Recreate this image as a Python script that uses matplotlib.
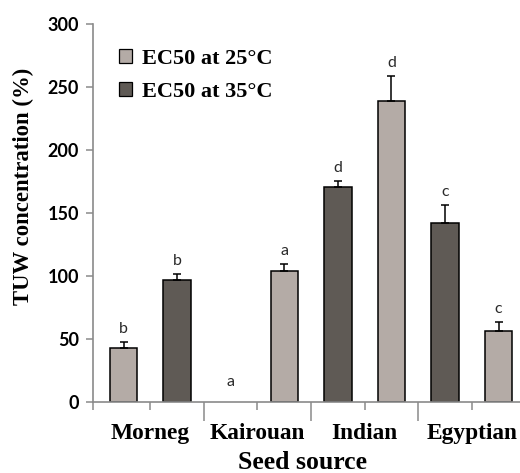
import matplotlib
matplotlib.use("Agg")
import matplotlib.pyplot as plt
import numpy as np

# ---- data ----
sources = ["Morneg", "Kairouan", "Indian", "Egyptian"]
ec25 = [43, 104, 239, 56]
ec25_err = [4.5, 5.5, 20, 7]
ec35 = [97, 0, 170.5, 142]
ec35_err = [4.5, 0, 4.5, 14]
letters25 = ["b", "a", "d", "c"]
letters35 = ["b", "a", "d", "c"]
yticks = [0, 50, 100, 150, 200, 250, 300]

# layout: which series comes first within each group (as in the original figure)
first_is_25 = [True, False, False, False]

light = "#b4aba6"
dark = "#5f5a55"
axis_col = "#8a8a8a"
serif = ["Liberation Serif", "DejaVu Serif"]

fig = plt.figure(figsize=(5.2, 4.73), dpi=100)
ax = fig.add_axes([93 / 520, 1 - 401.7 / 473, 1 - 93 / 520, (401.7 - 24) / 473])

bw = 0.51
for g in range(len(sources)):
    base = 2 * g
    x25 = base if first_is_25[g] else base + 1
    x35 = base + 1 if first_is_25[g] else base
    for x, v, e, lab, col in [(x25, ec25[g], ec25_err[g], letters25[g], light),
                              (x35, ec35[g], ec35_err[g], letters35[g], dark)]:
        if v > 0:
            ax.bar(x, v, width=bw, color=col, edgecolor="black", linewidth=1.1, zorder=2)
            ax.errorbar(x, v, yerr=[[0], [e]], fmt="none", ecolor="black",
                        elinewidth=1.1, capsize=3, capthick=1.1, zorder=3)
            off = 13
        else:
            off = 20
        ax.annotate(lab, (x, v + e), xytext=(0, off), textcoords="offset pixels",
                    ha="center", va="center", fontsize=11.5, family="Lato",
                    color="#2a2a2a")

# legend handles
ax.bar([np.nan], [np.nan], color=light, edgecolor="black", linewidth=0.9, label="EC50 at 25°C")
ax.bar([np.nan], [np.nan], color=dark, edgecolor="black", linewidth=0.9, label="EC50 at 35°C")
leg = ax.legend(loc="upper left", bbox_to_anchor=(0.06, 0.935), frameon=False,
                prop={"family": serif, "weight": "bold", "size": 16},
                handlelength=0.58, handleheight=0.58, handletextpad=0.45,
                labelspacing=0.6, borderpad=0, borderaxespad=0)

ax.set_xlim(-0.57, 7.4)
ax.set_ylim(0, 300)
ax.set_yticks(yticks)
ax.set_yticklabels([str(t) for t in yticks], family="Lato", fontweight="bold", fontsize=13)

centers = [2 * g + 0.5 for g in range(len(sources))]
ax.set_xticks([-0.57] + centers)
ax.set_xticklabels([""] + sources, family=serif, fontweight="bold", fontsize=16.8)
ax.set_xticks([1.5, 3.5, 5.5], minor=True)
ax.tick_params(axis="x", which="major", length=6, width=1.1, color=axis_col, pad=9)
ax.tick_params(axis="x", which="minor", length=14, width=1.1, color=axis_col)
ax.tick_params(axis="y", length=5, width=1.1, color=axis_col, pad=5)

for s in ["top", "right"]:
    ax.spines[s].set_visible(False)
for s in ["left", "bottom"]:
    ax.spines[s].set_color(axis_col)
    ax.spines[s].set_linewidth(1.2)

ax.set_ylabel("TUW concentration (%)", family=serif, fontweight="bold", fontsize=16.4)
ax.yaxis.set_label_coords((23 - 93) / 427, (401.7 - 186.5) / 377.7)
ax.set_xlabel("Seed source", family=serif, fontweight="bold", fontsize=18.5)
ax.xaxis.set_label_coords((302.5 - 93) / 427, -(462.5 - 401.7) / 377.7)
ax.xaxis.label.set_va("center")
ax.yaxis.label.set_va("center")

fig.savefig("out.png", dpi=100, facecolor="white")
